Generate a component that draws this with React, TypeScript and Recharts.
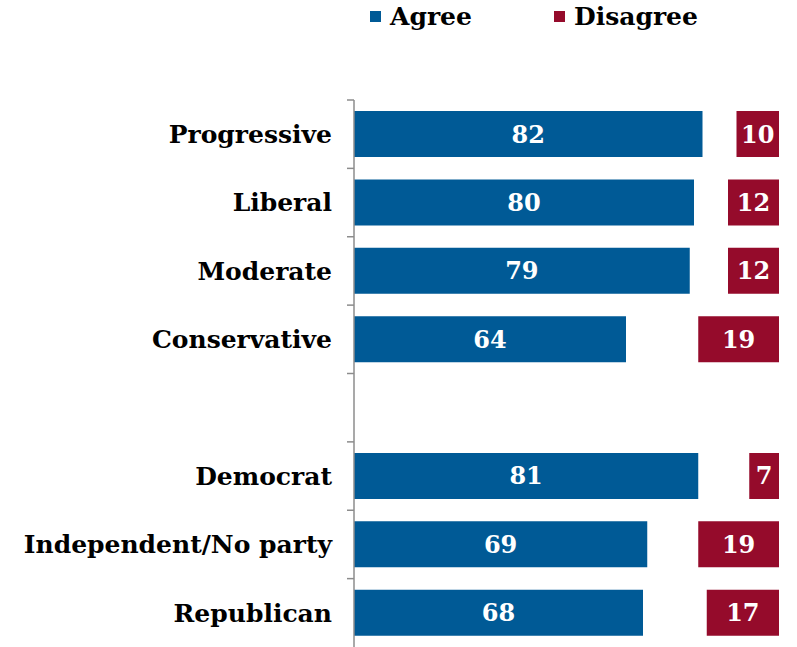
import React from "react";
import { Bar, BarChart, LabelList, XAxis, YAxis } from "recharts";

const categories = [
  "Progressive",
  "Liberal",
  "Moderate",
  "Conservative",
  " ",
  "Democrat",
  "Independent/No party",
  "Republican",
];
const agree = [82, 80, 79, 64, null, 81, 69, 68];
const disagree = [10, 12, 12, 19, null, 7, 19, 17];

const BLUE = "#005a96";
const RED = "#950b2b";
const FONT = "'DejaVu Serif', Georgia, serif";

const WIDTH = 797;
const HEIGHT = 647;
const MARGIN = { top: 100, right: 18, bottom: 0, left: 0 };
const AXIS_W = 354;
const BAND = (HEIGHT - MARGIN.top - MARGIN.bottom) / categories.length;

// agree bar, then an empty spacer, then disagree pushed to the right end (100)
const data = categories.map((name, i) => ({
  name,
  agree: agree[i],
  gap: agree[i] == null ? null : 100 - (agree[i] as number) - (disagree[i] as number),
  disagree: disagree[i],
}));

function CategoryTick(props: any) {
  const { y, payload } = props;
  const ax = MARGIN.left + AXIS_W;
  const top = y - BAND / 2;
  return (
    <g>
      <line x1={ax - 7} x2={ax} y1={top} y2={top} stroke="#8c8c8c" strokeWidth={1.5} />
      <text
        x={ax - 22}
        y={y}
        dy="0.35em"
        textAnchor="end"
        fill="#000"
        fontFamily={FONT}
        fontWeight="bold"
        fontSize={25}
      >
        {payload.value}
      </text>
    </g>
  );
}

function LegendBox() {
  const item = (left: number, color: string, label: string) => (
    <div
      style={{
        position: "absolute",
        left,
        top: 2,
        display: "flex",
        alignItems: "center",
        fontFamily: FONT,
        fontWeight: "bold",
        fontSize: 25,
        color: "#000",
      }}
    >
      <span style={{ width: 11, height: 11, background: color, marginRight: 9 }} />
      {label}
    </div>
  );
  return (
    <div style={{ position: "absolute", left: 0, top: 0, width: WIDTH, height: 40 }}>
      {item(370, BLUE, "Agree")}
      {item(554, RED, "Disagree")}
    </div>
  );
}

const valueLabel = {
  fill: "#fff",
  fontFamily: FONT,
  fontWeight: "bold",
  fontSize: 24,
};

export default function App() {
  return (
    <div style={{ position: "absolute", left: 0, top: 0, width: WIDTH, height: HEIGHT, background: "#fff" }}>
      <BarChart
        width={WIDTH}
        height={HEIGHT}
        data={data}
        layout="vertical"
        margin={MARGIN}
        barSize={46}
      >
        <XAxis type="number" domain={[0, 100]} hide />
        <YAxis
          type="category"
          dataKey="name"
          width={AXIS_W}
          axisLine={{ stroke: "#8c8c8c", strokeWidth: 1.5 }}
          tickLine={false}
          tick={<CategoryTick />}
          interval={0}
        />
        <Bar dataKey="agree" stackId="a" fill={BLUE} isAnimationActive={false}>
          <LabelList dataKey="agree" position="center" style={valueLabel} />
        </Bar>
        <Bar dataKey="gap" stackId="a" fill="transparent" legendType="none" isAnimationActive={false} />
        <Bar dataKey="disagree" stackId="a" fill={RED} isAnimationActive={false}>
          <LabelList dataKey="disagree" position="center" style={valueLabel} />
        </Bar>
      </BarChart>
      <LegendBox />
    </div>
  );
}
